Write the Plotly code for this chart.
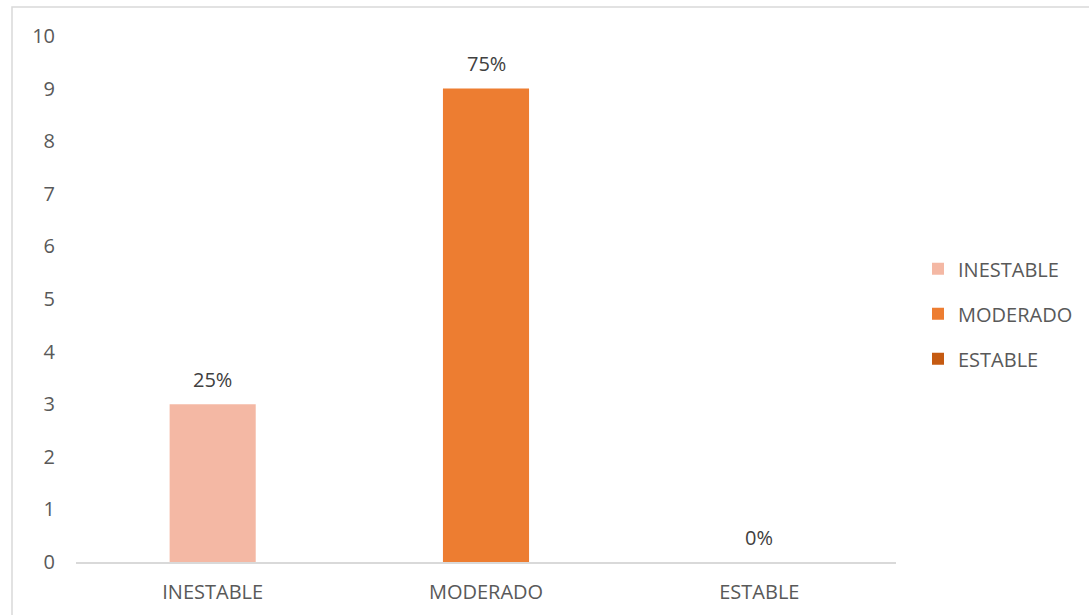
import plotly.graph_objects as go

categories = ["INESTABLE", "MODERADO", "ESTABLE"]
values = [3, 9, 0]
labels = ["25%", "75%", "0%"]
colors = ["#F4B8A4", "#ED7D31", "#C55A11"]
yticks = list(range(0, 11))

W, H = 1089, 615
L, R, T, B = 76, 193, 36, 52.5
pw, ph = W - L - R, H - T - B
FS = 20

fig = go.Figure()
for i, (c, v, lab, col) in enumerate(zip(categories, values, labels, colors)):
    fig.add_trace(go.Bar(
        x=[c], y=[v], name=c,
        marker=dict(color=col, line=dict(width=0)), width=0.315,
        legendgroup=c,
    ))
    fig.add_annotation(x=c, y=v, text=lab, showarrow=False, yanchor="middle",
                       yshift=25, font=dict(size=FS, color="#404040"))

fig.add_shape(type="rect", xref="paper", yref="paper",
              x0=(12 - L) / pw, x1=1.5, y0=-0.5, y1=1 + (T - 7) / ph,
              line=dict(color="#D9D9D9", width=1.5), layer="below")

fig.update_layout(
    template="none",
    width=W, height=H, autosize=False,
    margin=dict(l=L, r=R, t=T, b=B, autoexpand=False),
    paper_bgcolor="white", plot_bgcolor="white",
    barmode="overlay",
    font=dict(family="Open Sans", size=FS, color="#595959"),
    showlegend=True,
    legend=dict(x=(918 - L) / pw, y=1 - (314 - T) / ph, xanchor="left", yanchor="middle",
                font=dict(size=FS, color="#595959"), tracegroupgap=16,
                traceorder="grouped", itemwidth=30, bgcolor="rgba(0,0,0,0)"),
    xaxis=dict(categoryorder="array", categoryarray=categories, showgrid=False,
               showline=True, linecolor="#D9D9D9", linewidth=1.5, ticks="",
               automargin=False,
               tickfont=dict(size=FS, color="#595959"), ticklabelstandoff=11),
    yaxis=dict(range=[0, 10], tickvals=yticks, showgrid=False, zeroline=False,
               showline=False, ticks="", automargin=False,
               tickfont=dict(size=FS, color="#595959"),
               ticklabelstandoff=20),
)

fig.write_html("out.html")
